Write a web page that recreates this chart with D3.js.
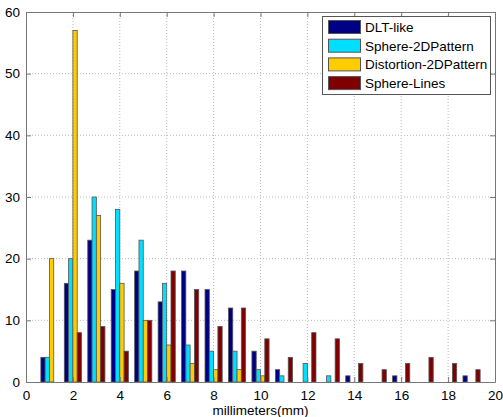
<!DOCTYPE html>
<html><head><meta charset="utf-8">
<script src="https://cdn.jsdelivr.net/npm/d3@7"></script>
<style>body{margin:0;background:#fff;} text{font-family:"Liberation Sans",Arial,sans-serif;}</style>
</head><body><svg id="c" width="503" height="417"></svg>
<script>
const bins = [1,2,3,4,5,6,7,8,9,10,11,12,13,14,15,16,17,18,19];
const seriesNames = ["DLT-like","Sphere-2DPattern","Distortion-2DPattern","Sphere-Lines"];
const dltLike      = [4,16,23,15,18,13,18,15,12,5,2,0,0,1,0,1,0,0,1];
const sphere2D     = [4,20,30,28,23,16,6,5,5,2,1,3,1,0,0,0,0,0,0];
const distortion2D = [20,57,27,16,10,6,3,2,2,1,0,0,0,0,0,0,0,0,0];
const sphereLines  = [0,8,9,5,10,18,15,9,12,7,4,8,7,3,2,3,4,3,2];
const colors = ["#000084","#00DFFF","#FFCC00","#800000"];
const xTicks = [0,2,4,6,8,10,12,14,16,18,20];
const yTicks = [0,10,20,30,40,50,60];

const all = [dltLike, sphere2D, distortion2D, sphereLines];
const svg = d3.select("#c");
const L=26,R=495,T=12,B=382;
const x = d3.scaleLinear().domain([0,20]).range([L,R]);
const y = d3.scaleLinear().domain([0,60]).range([B,T]);

// grid
const g = svg.append("g");
g.selectAll(".gx").data(xTicks.slice(1,-1)).enter().append("line")
 .attr("x1",d=>x(d)).attr("x2",d=>x(d)).attr("y1",T).attr("y2",B)
 .attr("stroke","#bbb").attr("stroke-dasharray","1,2");
g.selectAll(".gy").data(yTicks.slice(1,-1)).enter().append("line")
 .attr("y1",d=>y(d)).attr("y2",d=>y(d)).attr("x1",L).attr("x2",R)
 .attr("stroke","#bbb").attr("stroke-dasharray","1,2");

// bars
const bw = 0.183;
all.forEach((arr,si)=>{
  svg.append("g").selectAll("rect").data(bins.map((b,i)=>({b,v:arr[i]})).filter(d=>d.v>0))
   .enter().append("rect")
   .attr("x",d=>x(d.b + (si-2)*bw))
   .attr("width",x(bw)-x(0))
   .attr("y",d=>y(d.v))
   .attr("height",d=>y(0)-y(d.v))
   .attr("fill",colors[si]).attr("stroke","#555").attr("stroke-width",0.8);
});

// axes
const axisColor="#777";
const xb = svg.append("g").attr("transform",`translate(0,${B})`).call(d3.axisBottom(x).tickValues(xTicks).tickSizeInner(-5).tickSizeOuter(0).tickPadding(8));
const xt = svg.append("g").attr("transform",`translate(0,${T})`).call(d3.axisTop(x).tickValues(xTicks).tickSizeInner(-5).tickSizeOuter(0).tickFormat(""));
const yl = svg.append("g").attr("transform",`translate(${L},0)`).call(d3.axisLeft(y).tickValues(yTicks).tickSizeInner(-5).tickSizeOuter(0).tickPadding(6));
const yr = svg.append("g").attr("transform",`translate(${R},0)`).call(d3.axisRight(y).tickValues(yTicks).tickSizeInner(-5).tickSizeOuter(0).tickFormat(""));
[xb,xt,yl,yr].forEach(a=>{
  a.selectAll("path,line").attr("stroke",axisColor);
  a.selectAll("text").attr("fill","#000").style("font-size","13.5px").style("font-family","Liberation Sans, Arial, sans-serif");
});
svg.append("text").attr("x",(L+R)/2).attr("y",415).attr("text-anchor","middle")
 .style("font-size","13.5px").text("millimeters(mm)");

// legend
const lg = svg.append("g");
lg.append("rect").attr("x",322.5).attr("y",16.5).attr("width",168).attr("height",78)
 .attr("fill","#fff").attr("stroke","#555");
seriesNames.forEach((n,i)=>{
  const yy = 20 + i*18.7;
  lg.append("rect").attr("x",328.5).attr("y",yy+0.5).attr("width",32).attr("height",13)
   .attr("fill",colors[i]).attr("stroke","#555");
  lg.append("text").attr("x",365).attr("y",yy+12).style("font-size","13.5px").text(n);
});
</script></body></html>
